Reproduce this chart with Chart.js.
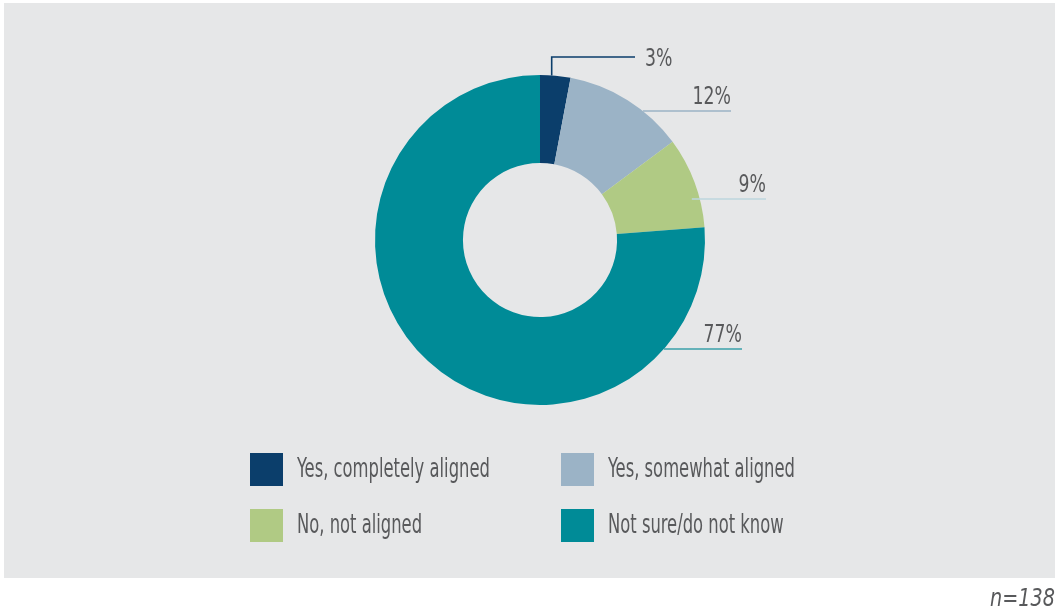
<!DOCTYPE html>
<html>
<head>
<meta charset="utf-8">
<title>Alignment survey</title>
<script src="https://cdn.jsdelivr.net/npm/chart.js@4.4.1/dist/chart.umd.min.js"></script>
<style>
  html, body { margin: 0; padding: 0; background: #ffffff; }
  #wrap { position: relative; width: 1059px; height: 611px; }
  canvas { display: block; }
</style>
</head>
<body>
<div id="wrap"><canvas id="chart" width="1059" height="611"></canvas></div>
<script>
// Survey answers and their shares (percent of respondents)
const categories = ['Yes, completely aligned', 'Yes, somewhat aligned', 'No, not aligned', 'Not sure/do not know'];
const shares = [3, 12, 9, 77];
const sliceColors = ['#0b3e6b', '#9bb3c6', '#b0ca84', '#008b97'];
const leaderColors = ['#0b3e6b', '#9bb3c6', '#bcd6de', '#3aa1aa'];
const sampleNote = 'n=138';

const TEXT = '#58595b';
const FONT = '"Liberation Sans Narrow", "DejaVu Sans Condensed", sans-serif';

// Leader-line placement per slice, relative to the ring centre
const leaders = [
  { kind: 'elbow', rise: 183, reach: 95, along: 0.38 },
  { kind: 'flat', dy: -129, reach: 191, inset: 0 },
  { kind: 'flat', dy: -41,  reach: 226, inset: 8 },
  { kind: 'flat', dy: 109,  reach: 202, inset: 0 }
];

function condensedText(ctx, str, x, y, size, align, scaleX, italic) {
  ctx.save();
  ctx.font = (italic ? 'italic ' : '') + size + 'px ' + FONT;
  ctx.fillStyle = TEXT;
  ctx.textAlign = align;
  ctx.translate(x, y);
  ctx.scale(scaleX, 1);
  ctx.fillText(str, 0, 0);
  ctx.restore();
}

const panelPlugin = {
  id: 'panel',
  beforeDraw(chart) {
    const ctx = chart.ctx;
    ctx.save();
    ctx.fillStyle = '#e6e7e8';
    ctx.fillRect(4, 3, 1051, 575);
    ctx.restore();
  }
};

const annotatePlugin = {
  id: 'annotate',
  afterDatasetsDraw(chart) {
    const ctx = chart.ctx;
    const arcs = chart.getDatasetMeta(0).data;
    const cx = arcs[0].x, cy = arcs[0].y, R = arcs[0].outerRadius;
    ctx.save();
    ctx.lineWidth = 1.6;
    arcs.forEach((arc, i) => {
      const L = leaders[i];
      const label = shares[i] + '%';
      ctx.strokeStyle = leaderColors[i];
      ctx.beginPath();
      if (L.kind === 'elbow') {
        const a = arc.startAngle + (arc.endAngle - arc.startAngle) * L.along;
        const sx = cx + R * Math.cos(a);
        const sy = cy + R * Math.sin(a);
        const topY = cy - L.rise;
        ctx.moveTo(sx, sy);
        ctx.lineTo(sx, topY);
        ctx.lineTo(cx + L.reach, topY);
        ctx.stroke();
        ctx.textBaseline = 'middle';
        condensedText(ctx, label, cx + L.reach + 10, topY + 3, 24, 'left', 0.8, false);
      } else {
        const y = cy + L.dy;
        const sx = cx + Math.sqrt(R * R - L.dy * L.dy) - L.inset;
        const ex = cx + L.reach;
        ctx.moveTo(sx, y);
        ctx.lineTo(ex, y);
        ctx.stroke();
        ctx.textBaseline = 'alphabetic';
        condensedText(ctx, label, ex, y - 7, 24, 'right', 0.8, false);
      }
    });
    ctx.restore();

    // Two-column legend
    ctx.save();
    const cols = [250, 561], rows = [453, 509], box = 33;
    categories.forEach((name, i) => {
      const bx = cols[i % 2], by = rows[Math.floor(i / 2)];
      ctx.fillStyle = sliceColors[i];
      ctx.fillRect(bx, by, box, box);
      ctx.textBaseline = 'middle';
      condensedText(ctx, name, bx + box + 14, by + box / 2 + 1, 26, 'left', 0.70, false);
    });
    ctx.textBaseline = 'alphabetic';
    condensedText(ctx, sampleNote, 1055, 606, 24, 'right', 0.89, true);
    ctx.restore();
  }
};

new Chart(document.getElementById('chart'), {
  type: 'doughnut',
  data: {
    labels: categories,
    datasets: [{
      data: shares,
      backgroundColor: sliceColors,
      borderWidth: 0,
      hoverOffset: 0
    }]
  },
  options: {
    responsive: false,
    animation: false,
    cutout: '46.7%',
    layout: { padding: { left: 375, right: 354, top: 75, bottom: 206 } },
    plugins: {
      legend: { display: false },
      tooltip: { enabled: false }
    }
  },
  plugins: [panelPlugin, annotatePlugin]
});
</script>
</body>
</html>
